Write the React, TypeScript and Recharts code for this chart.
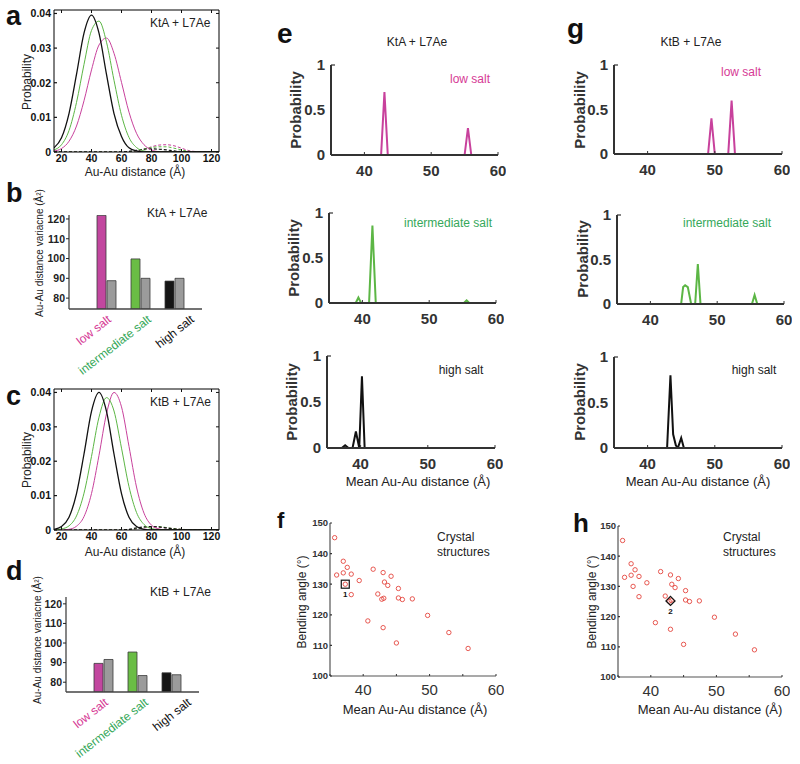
import React from "react";
import {
  Bar,
  BarChart,
  Cell,
  Line,
  LineChart,
  ReferenceLine,
  Scatter,
  ScatterChart,
  XAxis,
  YAxis
} from "recharts";

const FONT = "'Liberation Sans', Arial, Helvetica, sans-serif";
const MAG = "#c8419c";
const GRN = "#5cb645";
const BLK = "#111111";
const MAG_TXT = "#d63a95";
const GRN_TXT = "#36a85a";
const GREY = "#9b9b9b";

// panels a / c: Au-Au distance distributions
const distAxis = [15, 20, 25, 30, 35, 40, 45, 50, 55, 60, 65, 70, 75, 80, 85, 90, 95, 100, 105, 110, 115, 120, 125];
const distTicks = [20, 40, 60, 80, 100, 120];
const probTicks = [0, 0.01, 0.02, 0.03, 0.04];

const ktaHigh = [0.0012, 0.0041, 0.0111, 0.0224, 0.0343, 0.0395, 0.0343, 0.0224, 0.0111, 0.0045, 0.0012, 0.0003, 0, 0, 0, 0, 0, 0, 0, 0, 0, 0, 0];
const ktaInter = [0.0006, 0.0021, 0.0062, 0.0143, 0.0253, 0.0351, 0.0378, 0.0317, 0.0207, 0.0106, 0.0042, 0.0013, 0.0003, 0, 0, 0, 0, 0, 0, 0, 0, 0, 0];
const ktaLow = [0.0003, 0.001, 0.0031, 0.0075, 0.0148, 0.0237, 0.0309, 0.0329, 0.0285, 0.0201, 0.0115, 0.0054, 0.0021, 0.0006, 0.0001, 0, 0, 0, 0, 0, 0, 0, 0];
const ktaHighMinor = [0, 0, 0, 0, 0, 0, 0, 0, 0, 0, 0.0002, 0.0005, 0.0008, 0.0009, 0.0008, 0.0006, 0.0003, 0.0001, 0, 0, 0, 0, 0];
const ktaInterMinor = [0, 0, 0, 0, 0, 0, 0, 0, 0, 0, 0, 0.0004, 0.0009, 0.0013, 0.0015, 0.0015, 0.0011, 0.0006, 0.0002, 0, 0, 0, 0];
const ktaLowMinor = [0, 0, 0, 0, 0, 0, 0, 0, 0, 0, 0, 0.0003, 0.0008, 0.0015, 0.002, 0.0021, 0.0018, 0.0011, 0.0004, 0.0001, 0, 0, 0];

const ktbHigh = [0.0002, 0.001, 0.0037, 0.0106, 0.0221, 0.0345, 0.04, 0.0345, 0.0221, 0.0106, 0.0037, 0.001, 0.0002, 0, 0, 0, 0, 0, 0, 0, 0, 0, 0];
const ktbInter = [0, 0.0003, 0.0012, 0.0041, 0.0107, 0.0214, 0.0328, 0.0385, 0.0346, 0.0238, 0.0126, 0.0051, 0.0016, 0.0004, 0.0001, 0, 0, 0, 0, 0, 0, 0, 0];
const ktbLow = [0, 0, 0.0002, 0.0011, 0.0039, 0.0106, 0.0217, 0.0338, 0.04, 0.0358, 0.0243, 0.0125, 0.0049, 0.0014, 0.0003, 0, 0, 0, 0, 0, 0, 0, 0];
const ktbHighMinor = [0, 0, 0, 0, 0, 0, 0, 0, 0, 0, 0.0002, 0.0006, 0.0009, 0.001, 0.0009, 0.0006, 0.0003, 0.0001, 0, 0, 0, 0, 0];
const ktbInterMinor = [0, 0, 0, 0, 0, 0, 0, 0, 0, 0, 0, 0.0004, 0.0008, 0.001, 0.001, 0.0007, 0.0004, 0.0002, 0.0001, 0, 0, 0, 0];
const ktbLowMinor = [0, 0, 0, 0, 0, 0, 0, 0, 0, 0, 0, 0.0003, 0.0006, 0.0008, 0.0008, 0.0006, 0.0004, 0.0002, 0.0001, 0, 0, 0, 0];

// panels b / d: distance variance
const saltLevels = ["low salt", "intermediate salt", "high salt"];
const saltColors = [MAG_TXT, GRN_TXT, "#111"];
const barColors = ["#c2479f", "#6abd45", "#151515"];
const varianceTicks = [80, 90, 100, 110, 120];
const ktaVariance = [121.8, 99.8, 88.6];
const ktaVarianceRef = [88.8, 90.0, 90.0];
const ktbVariance = [89.6, 95.4, 84.8];
const ktbVarianceRef = [91.6, 83.4, 83.8];

// panels e / g: mean distance histograms
const meanTicks = [40, 50, 60];
const peakTicks = [0, 0.5, 1];
const eLowX = [35, 42.5, 43, 43.5, 55, 55.5, 56, 60];
const eLowP = [0, 0, 0.7, 0, 0, 0.3, 0, 0];
const eInterX = [35, 39, 39.4, 39.8, 41, 41.5, 42, 55.2, 55.6, 56, 60];
const eInterP = [0, 0, 0.06, 0, 0, 0.86, 0, 0, 0.03, 0, 0];
const eHighX = [35, 37.2, 37.7, 38.2, 38.8, 39.3, 39.8, 40.2, 40.6, 60];
const eHighP = [0, 0, 0.03, 0, 0, 0.18, 0, 0.78, 0, 0];
const gLowX = [35, 49, 49.5, 50, 52, 52.5, 53, 60];
const gLowP = [0, 0, 0.4, 0, 0, 0.6, 0, 0];
const gInterX = [35, 44.6, 44.9, 45.2, 45.6, 46.1, 46.7, 47.1, 47.5, 55.2, 55.6, 56, 60];
const gInterP = [0, 0, 0.19, 0.21, 0.19, 0, 0, 0.45, 0, 0, 0.1, 0, 0];
const gHighX = [35, 42.9, 43.4, 43.8, 44.2, 44.5, 45, 45.4, 60];
const gHighP = [0, 0, 0.8, 0.15, 0.03, 0, 0.11, 0, 0];

// panels f / h: crystal structures
const crystalDist = [35.7, 36.0, 37.0, 37.0, 37.6, 38.2, 37.3, 38.2, 39.4, 41.5, 43.0, 44.2, 43.2, 43.7, 45.3, 42.2, 42.8, 43.1, 45.3, 45.9, 47.4, 40.7, 43.0, 45.0, 49.7, 52.9, 55.8];
const crystalAngle = [145.2, 133, 137.5, 133.7, 135.5, 133.3, 130, 126.6, 131.2, 134.9, 133.8, 132.6, 130.7, 129.6, 128.6, 126.8, 125.1, 125.4, 125.5, 125, 125.2, 118, 115.8, 110.8, 119.8, 114.2, 109];
const angleTicks = [100, 110, 120, 130, 140, 150];
const crystalXTicks = [35, 40, 45, 50, 55, 60];
const markKtA = { x: 37.3, y: 130, tag: "1" };
const markKtB = { x: 43.0, y: 125.2, tag: "2" };

type Geo = { x: number; y: number; w: number; h: number };

function frame(g: Geo, yw: number, xh: number, mt = 6, mr = 8) {
  return {
    style: { position: "absolute" as const, left: g.x - yw, top: g.y - mt },
    width: yw + g.w + mr,
    height: mt + g.h + xh,
    margin: { top: mt, right: mr, bottom: 0, left: 0 }
  };
}

// tick helpers: tickSize is 0, so the axis sits at (label pos - tickMargin)
function XTick(props: any) {
  const { x, y, payload, gap, inner = 0, span, size, weight, color, show } = props;
  const axisY = y - gap;
  const visible = show ? show(payload.value) : true;
  return (
    <g>
      {inner > 0 && <line x1={x} x2={x} y1={axisY} y2={axisY - inner} stroke={color} strokeWidth={1} />}
      {inner > 0 && span ? (
        <line x1={x} x2={x} y1={axisY - span} y2={axisY - span + inner} stroke={color} strokeWidth={1} />
      ) : null}
      {visible && (
        <text x={x} y={y} dy="0.72em" textAnchor="middle" fontFamily={FONT} fontSize={size} fontWeight={weight} fill={color}>
          {payload.value}
        </text>
      )}
    </g>
  );
}

function YTick(props: any) {
  const { x, y, payload, gap, inner = 0, outer = 0, span, size, weight, color, only } = props;
  const axisX = x + gap;
  const tickOn = only === undefined || only === payload.value;
  return (
    <g>
      {inner > 0 && tickOn && <line x1={axisX} x2={axisX + inner} y1={y} y2={y} stroke={color} strokeWidth={1.2} />}
      {inner > 0 && span ? (
        <line x1={axisX + span - inner} x2={axisX + span} y1={y} y2={y} stroke={color} strokeWidth={1} />
      ) : null}
      {outer > 0 && <line x1={axisX - outer} x2={axisX} y1={y} y2={y} stroke={color} strokeWidth={1} />}
      <text x={x} y={y} dy="0.36em" textAnchor="end" fontFamily={FONT} fontSize={size} fontWeight={weight} fill={color}>
        {payload.value}
      </text>
    </g>
  );
}

function DistPanel({ geo, high, inter, low, highMinor, interMinor, lowMinor }: any) {
  const rows = distAxis.map((d, i) => ({
    d,
    high: high[i],
    inter: inter[i],
    low: low[i],
    highMinor: highMinor[i],
    interMinor: interMinor[i],
    lowMinor: lowMinor[i]
  }));
  const f = frame(geo, 54, 22, 4, 6);
  return (
    <div style={f.style}>
      <LineChart width={f.width} height={f.height} data={rows} margin={f.margin}>
        <XAxis
          dataKey="d"
          type="number"
          domain={[15, 125]}
          ticks={distTicks}
          allowDataOverflow
          interval={0}
          height={22}
          tickSize={0}
          tickMargin={2}
          tickLine={false}
          axisLine={{ stroke: "#000", strokeWidth: 1 }}
          tick={(p: any) => (
            <XTick {...p} gap={2} inner={3} span={geo.h} size={10.5} weight="bold" color="#111" />
          )}
        />
        <YAxis
          type="number"
          domain={[0, 0.041]}
          ticks={probTicks}
          allowDataOverflow
          interval={0}
          width={54}
          tickSize={0}
          tickMargin={3}
          tickLine={false}
          axisLine={{ stroke: "#000", strokeWidth: 1 }}
          tick={(p: any) => (
            <YTick {...p} gap={3} inner={3} span={geo.w} size={10.5} weight="bold" color="#111" />
          )}
        />
        <ReferenceLine y={0.041} stroke="#000" strokeWidth={1} />
        <ReferenceLine x={125} stroke="#000" strokeWidth={1} />
        <Line dataKey="lowMinor" type="monotone" stroke={MAG} strokeWidth={1} strokeDasharray="3 2" dot={false} isAnimationActive={false} />
        <Line dataKey="interMinor" type="monotone" stroke={GRN} strokeWidth={1} strokeDasharray="3 2" dot={false} isAnimationActive={false} />
        <Line dataKey="highMinor" type="monotone" stroke={BLK} strokeWidth={1.2} strokeDasharray="3 2" dot={false} isAnimationActive={false} />
        <Line dataKey="low" type="monotone" stroke={MAG} strokeWidth={1} dot={false} isAnimationActive={false} />
        <Line dataKey="inter" type="monotone" stroke={GRN} strokeWidth={1} dot={false} isAnimationActive={false} />
        <Line dataKey="high" type="monotone" stroke={BLK} strokeWidth={1.3} dot={false} isAnimationActive={false} />
      </LineChart>
    </div>
  );
}

const saltShift = [6, 12, 21];

function SaltTick(props: any) {
  const { x, y, index } = props;
  const ax = x + saltShift[index];
  const ay = y + 8;
  return (
    <text
      x={ax}
      y={ay}
      transform={`rotate(-38 ${ax} ${ay})`}
      textAnchor="end"
      fontFamily={FONT}
      fontSize={12}
      fill={saltColors[index]}
    >
      {saltLevels[index]}
    </text>
  );
}

function VariancePanel({ geo, main, refs, domain }: any) {
  const rows = saltLevels.map((s, i) => ({ s, main: main[i], refVal: refs[i] }));
  const f = frame(geo, geo.x, 68, 6, 6);
  return (
    <div style={f.style}>
      <BarChart
        width={f.width}
        height={f.height}
        data={rows}
        margin={f.margin}
        barGap={1}
        barCategoryGap={4}
        style={{ overflow: "visible" }}
      >
        <XAxis
          dataKey="s"
          padding={{ left: 20, right: 11 }}
          interval={0}
          height={68}
          tickSize={0}
          tickMargin={4}
          tickLine={false}
          axisLine={{ stroke: "#444", strokeWidth: 1.3 }}
          tick={(p: any) => <SaltTick {...p} />}
        />
        <YAxis
          type="number"
          domain={domain}
          ticks={varianceTicks}
          allowDataOverflow
          interval={0}
          width={geo.x}
          tickSize={0}
          tickMargin={4}
          tickLine={false}
          axisLine={{ stroke: "#444", strokeWidth: 1.3 }}
          tick={(p: any) => <YTick {...p} gap={4} outer={3} size={10.5} weight="bold" color="#222" />}
        />
        <Bar dataKey="main" barSize={9} stroke="#3a3a3a" strokeWidth={0.8} isAnimationActive={false}>
          {rows.map((r, i) => (
            <Cell key={r.s} fill={barColors[i]} />
          ))}
        </Bar>
        <Bar dataKey="refVal" barSize={9} fill={GREY} stroke="#3a3a3a" strokeWidth={0.8} isAnimationActive={false} />
      </BarChart>
    </div>
  );
}

function PeakPanel({ geo, xs, ps, color }: any) {
  const rows = xs.map((d: number, i: number) => ({ d, p: ps[i] }));
  const f = frame(geo, 40, 30, 8, 8);
  return (
    <div style={f.style}>
      <LineChart width={f.width} height={f.height} data={rows} margin={f.margin}>
        <XAxis
          dataKey="d"
          type="number"
          domain={[35, 60]}
          ticks={meanTicks}
          allowDataOverflow
          interval={0}
          height={30}
          tickSize={0}
          tickMargin={10}
          tickLine={false}
          axisLine={{ stroke: "#333", strokeWidth: 2 }}
          tick={(p: any) => <XTick {...p} gap={10} inner={3} size={15} weight="bold" color="#333" />}
        />
        <YAxis
          type="number"
          domain={[0, 1]}
          ticks={peakTicks}
          allowDataOverflow
          interval={0}
          width={40}
          tickSize={0}
          tickMargin={6}
          tickLine={false}
          axisLine={{ stroke: "#333", strokeWidth: 2 }}
          tick={(p: any) => <YTick {...p} gap={6} inner={4} only={1} size={15} weight="bold" color="#333" />}
        />
        <Line dataKey="p" type="linear" stroke={color} strokeWidth={2} dot={false} isAnimationActive={false} />
      </LineChart>
    </div>
  );
}

const crystals = crystalDist.map((x, i) => ({ x, y: crystalAngle[i] }));

function Ring(p: any) {
  return <circle cx={p.cx} cy={p.cy} r={2.2} fill="none" stroke="#e4463e" strokeWidth={0.9} />;
}

function SquareMark(p: any) {
  return (
    <g>
      <rect x={p.cx - 4} y={p.cy - 4} width={8} height={8} fill="none" stroke="#111" strokeWidth={1.2} />
      <text x={p.cx} y={p.cy + 13} textAnchor="middle" fontFamily={FONT} fontSize={8} fontWeight="bold" fill="#111">
        {p.payload.tag}
      </text>
    </g>
  );
}

function DiamondMark(p: any) {
  const s = 4.5;
  return (
    <g>
      <path
        d={`M${p.cx} ${p.cy - s}L${p.cx + s} ${p.cy}L${p.cx} ${p.cy + s}L${p.cx - s} ${p.cy}Z`}
        fill="none"
        stroke="#111"
        strokeWidth={1.3}
      />
      <text x={p.cx} y={p.cy + 13} textAnchor="middle" fontFamily={FONT} fontSize={8} fontWeight="bold" fill="#111">
        {p.payload.tag}
      </text>
    </g>
  );
}

function CrystalPanel({ geo, mark, diamond }: any) {
  const f = frame(geo, 30, 30, 6, 8);
  return (
    <div style={f.style}>
      <ScatterChart width={f.width} height={f.height} margin={f.margin}>
        <XAxis
          dataKey="x"
          type="number"
          domain={[35, 60]}
          ticks={crystalXTicks}
          allowDataOverflow
          interval={0}
          height={30}
          tickSize={0}
          tickMargin={8}
          tickLine={false}
          axisLine={{ stroke: "#555", strokeWidth: 1.2 }}
          tick={(p: any) => (
            <XTick {...p} gap={8} inner={2} size={15} weight="normal" color="#333" show={(v: number) => v % 10 === 0} />
          )}
        />
        <YAxis
          dataKey="y"
          type="number"
          domain={[100, 150]}
          ticks={angleTicks}
          allowDataOverflow
          interval={0}
          width={30}
          tickSize={0}
          tickMargin={2}
          tickLine={false}
          axisLine={{ stroke: "#555", strokeWidth: 1.2 }}
          tick={(p: any) => <YTick {...p} gap={2} inner={2} size={9.5} weight="bold" color="#333" />}
        />
        <Scatter data={crystals} shape={Ring} isAnimationActive={false} />
        <Scatter data={[mark]} shape={diamond ? DiamondMark : SquareMark} isAnimationActive={false} />
      </ScatterChart>
    </div>
  );
}

function Txt({ x, y, size = 12, weight = "normal", color = "#222", anchor = "start", children }: any) {
  return (
    <text x={x} y={y} fontFamily={FONT} fontSize={size} fontWeight={weight} fill={color} textAnchor={anchor} dominantBaseline="central">
      {children}
    </text>
  );
}

function VTxt({ x, y, size = 12, weight = "normal", color = "#222", children }: any) {
  return (
    <text
      transform={`translate(${x},${y}) rotate(-90)`}
      fontFamily={FONT}
      fontSize={size}
      fontWeight={weight}
      fill={color}
      textAnchor="middle"
      dominantBaseline="central"
    >
      {children}
    </text>
  );
}

function Letter({ x, y, size = 27, children }: any) {
  return (
    <text x={x} y={y} fontFamily={FONT} fontSize={size} fontWeight="bold" fill="#111">
      {children}
    </text>
  );
}

export default function App() {
  return (
    <div style={{ position: "absolute", left: 0, top: 0, width: 800, height: 764, background: "#fff", overflow: "hidden" }}>
      <DistPanel
        geo={{ x: 54, y: 10, w: 165, h: 142 }}
        high={ktaHigh}
        inter={ktaInter}
        low={ktaLow}
        highMinor={ktaHighMinor}
        interMinor={ktaInterMinor}
        lowMinor={ktaLowMinor}
      />
      <VariancePanel geo={{ x: 69, y: 215, w: 133, h: 94 }} main={ktaVariance} refs={ktaVarianceRef} domain={[74.5, 122]} />
      <DistPanel
        geo={{ x: 54, y: 389, w: 165, h: 141 }}
        high={ktbHigh}
        inter={ktbInter}
        low={ktbLow}
        highMinor={ktbHighMinor}
        interMinor={ktbInterMinor}
        lowMinor={ktbLowMinor}
      />
      <VariancePanel geo={{ x: 66, y: 597, w: 133, h: 95 }} main={ktbVariance} refs={ktbVarianceRef} domain={[75, 123.5]} />

      <PeakPanel geo={{ x: 331, y: 65, w: 167, h: 90 }} xs={eLowX} ps={eLowP} color={MAG} />
      <PeakPanel geo={{ x: 329, y: 213, w: 167, h: 90 }} xs={eInterX} ps={eInterP} color={GRN} />
      <PeakPanel geo={{ x: 327, y: 356, w: 168, h: 92 }} xs={eHighX} ps={eHighP} color={BLK} />
      <PeakPanel geo={{ x: 614, y: 65, w: 168, h: 89 }} xs={gLowX} ps={gLowP} color={MAG} />
      <PeakPanel geo={{ x: 617, y: 215, w: 167, h: 89 }} xs={gInterX} ps={gInterP} color={GRN} />
      <PeakPanel geo={{ x: 614, y: 357, w: 168, h: 91 }} xs={gHighX} ps={gHighP} color={BLK} />

      <CrystalPanel geo={{ x: 330, y: 523, w: 166, h: 153 }} mark={markKtA} />
      <CrystalPanel geo={{ x: 618, y: 526, w: 164, h: 151 }} mark={markKtB} diamond />

      <svg width={800} height={764} style={{ position: "absolute", left: 0, top: 0, pointerEvents: "none" }}>
        {/* a */}
        <Letter x={6} y={25}>a</Letter>
        <Txt x={150} y={23}>KtA + L7Ae</Txt>
        <VTxt x={27} y={82}>Probability</VTxt>
        <Txt x={135} y={172} anchor="middle">Au-Au distance (Å)</Txt>
        {/* b */}
        <Letter x={6} y={202}>b</Letter>
        <Txt x={147} y={213}>KtA + L7Ae</Txt>
        <VTxt x={39} y={253} size={10}>Au-Au distance variacne (Å²)</VTxt>
        {/* c */}
        <Letter x={6} y={405}>c</Letter>
        <Txt x={150} y={402}>KtB + L7Ae</Txt>
        <VTxt x={27} y={460}>Probability</VTxt>
        <Txt x={135} y={552} anchor="middle">Au-Au distance (Å)</Txt>
        {/* d */}
        <Letter x={6} y={580}>d</Letter>
        <Txt x={150} y={592}>KtB + L7Ae</Txt>
        <VTxt x={37} y={640} size={10}>Au-Au distance variacne (Å²)</VTxt>
        {/* e */}
        <Letter x={277} y={43} size={28}>e</Letter>
        <Txt x={417} y={42} anchor="middle">KtA + L7Ae</Txt>
        <VTxt x={295} y={110} size={15} weight="bold" color="#333">Probability</VTxt>
        <VTxt x={293} y={258} size={15} weight="bold" color="#333">Probability</VTxt>
        <VTxt x={291} y={402} size={15} weight="bold" color="#333">Probability</VTxt>
        <Txt x={470} y={79} anchor="middle" color={MAG_TXT}>low salt</Txt>
        <Txt x={448} y={223} anchor="middle" color={GRN_TXT}>intermediate salt</Txt>
        <Txt x={461} y={370} anchor="middle">high salt</Txt>
        <Txt x={418} y={481} size={13} anchor="middle">Mean Au-Au distance (Å)</Txt>
        {/* g */}
        <Letter x={567} y={38} size={28}>g</Letter>
        <Txt x={691} y={42} anchor="middle">KtB + L7Ae</Txt>
        <VTxt x={579} y={110} size={15} weight="bold" color="#333">Probability</VTxt>
        <VTxt x={582} y={259} size={15} weight="bold" color="#333">Probability</VTxt>
        <VTxt x={579} y={402} size={15} weight="bold" color="#333">Probability</VTxt>
        <Txt x={741} y={72} anchor="middle" color={MAG_TXT}>low salt</Txt>
        <Txt x={727} y={223} anchor="middle" color={GRN_TXT}>intermediate salt</Txt>
        <Txt x={754} y={370} anchor="middle">high salt</Txt>
        <Txt x={698} y={481} size={13} anchor="middle">Mean Au-Au distance (Å)</Txt>
        {/* f */}
        <Letter x={277} y={528} size={22}>f</Letter>
        <Txt x={437} y={537}>Crystal</Txt>
        <Txt x={437} y={552}>structures</Txt>
        <VTxt x={302} y={602}>Bending angle (°)</VTxt>
        <Txt x={415} y={709} size={13} anchor="middle">Mean Au-Au distance (Å)</Txt>
        {/* h */}
        <Letter x={573} y={532} size={26}>h</Letter>
        <Txt x={723} y={537}>Crystal</Txt>
        <Txt x={723} y={552}>structures</Txt>
        <VTxt x={592} y={602}>Bending angle (°)</VTxt>
        <Txt x={710} y={709} size={13} anchor="middle">Mean Au-Au distance (Å)</Txt>
      </svg>
    </div>
  );
}
